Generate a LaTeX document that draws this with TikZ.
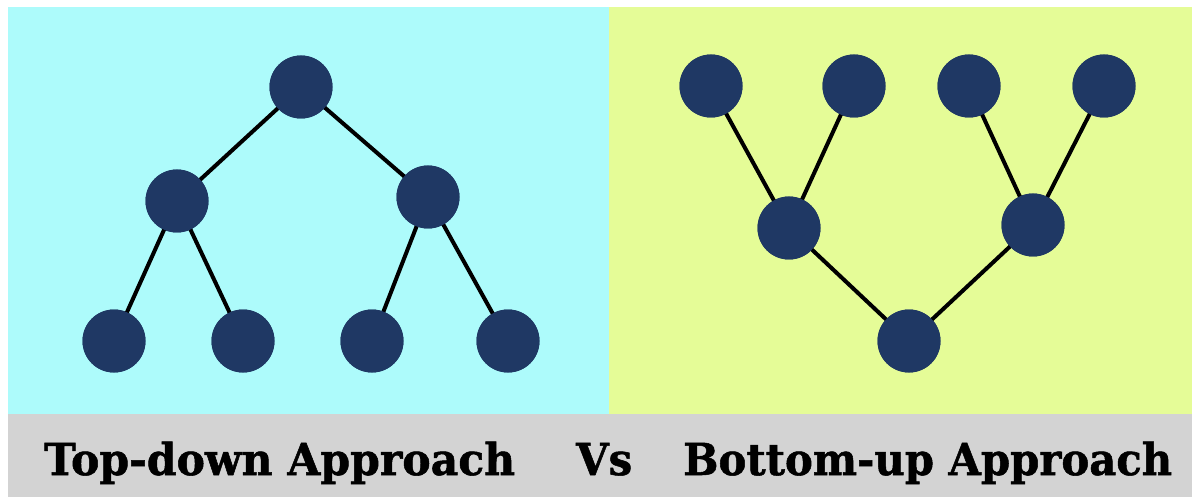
\documentclass[tikz,border=0pt]{standalone}
\usepackage{fontspec}
\usepackage{graphicx}
\newfontfamily\labelfont[BoldFeatures={FakeBold=1.2}]{DejaVu Serif}
\definecolor{panelcyan}{HTML}{ADFBFB}
\definecolor{panellime}{HTML}{E5FC97}
\definecolor{bandgray}{HTML}{D3D3D3}
\definecolor{nodenavy}{HTML}{1F3864}
\newcommand\fitlabel[2]{\resizebox{#1}{\height}{#2}}
\tikzset{
  treenode/.style={circle, fill=nodenavy, draw=none, minimum size=63pt, inner sep=0pt},
  branch/.style={draw=black, line width=4pt},
  caption/.style={anchor=base west, inner sep=0pt, text=black,
    font=\labelfont\bfseries\fontsize{44}{44}\selectfont}
}
\begin{document}
\begin{tikzpicture}[x=1pt, y=-1pt]
  \useasboundingbox (0,0) rectangle (1192,497);
  \fill[white] (0,0) rectangle (1192,497);
  % backgrounds
  \fill[panelcyan] (8,7) rectangle (609,414);
  \fill[panellime] (609,7) rectangle (1192,414);
  \fill[bandgray] (8,414) rectangle (1192,497);

  % top-down tree
  \node[treenode] (r)   at (301,87)  {};
  \node[treenode] (a)   at (177,201) {};
  \node[treenode] (b)   at (428,197) {};
  \node[treenode] (a1)  at (114,341) {};
  \node[treenode] (a2)  at (243,341) {};
  \node[treenode] (b1)  at (372,341) {};
  \node[treenode] (b2)  at (508,341) {};

  % bottom-up tree
  \node[treenode] (t1) at (711,86)  {};
  \node[treenode] (t2) at (854,86)  {};
  \node[treenode] (t3) at (969,86)  {};
  \node[treenode] (t4) at (1104,86) {};
  \node[treenode] (m1) at (789,228) {};
  \node[treenode] (m2) at (1033,225) {};
  \node[treenode] (bt) at (909,341) {};

  % branches are drawn first, then the discs again on top
  \draw[branch] (r.center) -- (a.center) (r.center) -- (b.center)
    (a.center) -- (a1.center) (a.center) -- (a2.center)
    (b.center) -- (b1.center) (b.center) -- (b2.center);
  \draw[branch] (t1.center) -- (m1.center) (t2.center) -- (m1.center)
    (t3.center) -- (m2.center) (t4.center) -- (m2.center)
    (m1.center) -- (bt.center) (m2.center) -- (bt.center);
  \foreach \n in {r,a,b,a1,a2,b1,b2,t1,t2,t3,t4,m1,m2,bt}
    \fill[nodenavy] (\n.center) circle (31.5pt);

  % captions
  \node[caption] (cl) at (44,475)  {\fitlabel{471pt}{Top-down Approach}};
  \node[caption] (cv) at (576,475) {\fitlabel{56pt}{Vs}};
  \node[caption] (cr) at (683,475) {\fitlabel{489pt}{Bottom-up Approach}};
\end{tikzpicture}
\end{document}
